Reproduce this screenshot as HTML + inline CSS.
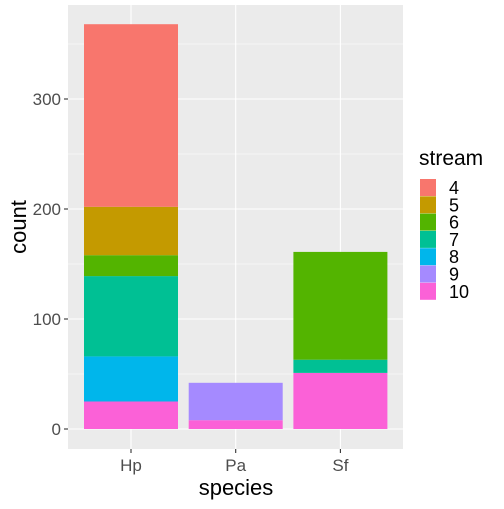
<!DOCTYPE html>
<html><head><meta charset="utf-8"><style>
body{margin:0;background:#fff;font-family:"Liberation Sans",sans-serif}
</style></head><body>
<svg id="chart" width="504" height="504" xmlns="http://www.w3.org/2000/svg">
<rect x="68" y="5" width="335" height="444" fill="#ebebeb"/>
<g id="grid"></g><g id="bars"></g><g id="axes"></g><g id="legend"></g>
<text x="236" y="495" font-size="22" text-anchor="middle" fill="#000">species</text>
<text transform="translate(26,227) rotate(-90)" font-size="22" text-anchor="middle" fill="#000">count</text>
</svg>
<script>
const species = ["Hp","Pa","Sf"];
const streams = ["4","5","6","7","8","9","10"];
const colors = ["#F8766D","#C49A00","#53B400","#00C094","#00B6EB","#A58AFF","#FB61D7"];
// counts per stream for each species, order matches streams
const hp = [166,44,19,73,41,0,25];
const pa = [0,0,0,0,0,34,8];
const sf = [0,0,98,12,0,0,51];
const yTicks = [0,100,200,300];
const series = [hp,pa,sf];
const NS="http://www.w3.org/2000/svg";
const y = v => 429 - v*1.1;
const x = i => 131 + i*104.7;
const bw = 94;
function mk(tag,attrs,parent){const e=document.createElementNS(NS,tag);for(const k in attrs)e.setAttribute(k,attrs[k]);parent.appendChild(e);return e;}
const grid=document.getElementById('grid'),bars=document.getElementById('bars'),axes=document.getElementById('axes'),legend=document.getElementById('legend');
for(let i=0;i<yTicks.length;i++){
  const t=yTicks[i];
  const g=mk('line',{x1:68,x2:403,y1:y(t),y2:y(t),stroke:'#fff','stroke-width':1.1},grid);
  
  
  const m=t+50;
  if(y(m)>5){const gm=mk('line',{x1:68,x2:403,y1:y(m),y2:y(m),stroke:'#fff','stroke-width':0.5},grid);
  
  }
  const tk=mk('line',{x1:64,x2:68,y1:y(t),y2:y(t),stroke:'#333','stroke-width':1.1},axes);
  
  
  const tl=mk('text',{x:61,y:y(t)+6,'font-size':17,'text-anchor':'end',fill:'#4d4d4d'},axes);
  tl.textContent=t;
  
  
}
species.forEach((s,i)=>{
  const g=mk('line',{x1:x(i),x2:x(i),y1:5,y2:449,stroke:'#fff','stroke-width':1.1},grid);
  
  
  const tk=mk('line',{x1:x(i),x2:x(i),y1:449,y2:453,stroke:'#333','stroke-width':1.1},axes);
  
  
  const tl=mk('text',{x:x(i),y:471,'font-size':17,'text-anchor':'middle',fill:'#4d4d4d'},axes);
  tl.textContent=s;
  
  
  let cum=0;
  for(let k=streams.length-1;k>=0;k--){
    const v=series[i][k]; if(!v) continue;
    const r=mk('rect',{x:x(i)-bw/2,y:y(cum+v),width:bw,height:v*1.1,fill:colors[k]},bars);
    
    
    cum+=v;
  }
});
const lt=mk('text',{x:419,y:165,'font-size':21,fill:'#000'},legend);
lt.textContent='stream';


streams.forEach((s,k)=>{
  const yy=179+k*17.3;
  const r=mk('rect',{x:420,y:yy,width:16,height:17,fill:colors[k]},legend);
  
  
  const t=mk('text',{x:449,y:yy+15,'font-size':18,fill:'#000'},legend);
  t.textContent=s;
  
  
});
</script>
</body></html>
